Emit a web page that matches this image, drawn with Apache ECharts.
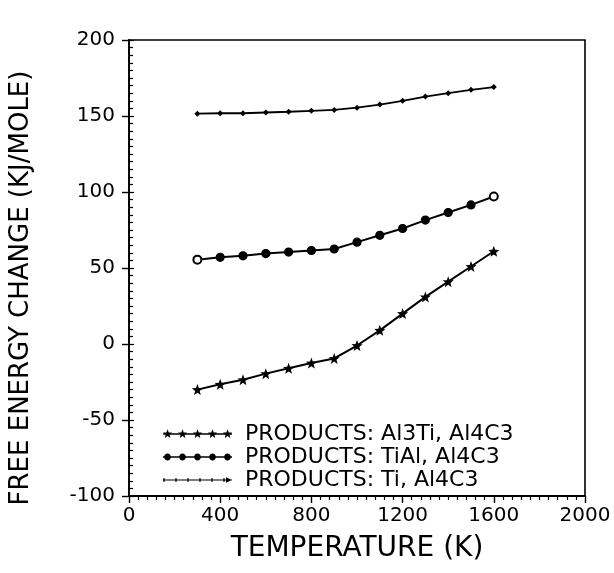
<!DOCTYPE html>
<html>
<head>
<meta charset="utf-8">
<script src="https://cdn.jsdelivr.net/npm/echarts@6/dist/echarts.min.js"></script>
<style>
html, body { margin: 0; padding: 0; background: #fff; }
#chart { width: 614px; height: 573px; }
</style>
</head>
<body>
<div id="chart"></div>
<script>
// data
var temps = [300, 400, 500, 600, 700, 800, 900, 1000, 1100, 1200, 1300, 1400, 1500, 1600];
var al3tiVals = [-30, -26.5, -23.5, -19.5, -16, -12.5, -9.5, -1, 9, 20, 31, 41, 51, 61];
var tialVals = [55.5, 57, 58, 59.5, 60.5, 61.5, 62.5, 67, 71.5, 76, 81.5, 86.5, 91.5, 97];
var tiVals = [151.5, 151.8, 151.8, 152.3, 152.8, 153.4, 154, 155.5, 157.5, 160, 162.8, 165, 167.2, 169];
var seriesNames = ['PRODUCTS: Al3Ti, Al4C3', 'PRODUCTS: TiAl, Al4C3', 'PRODUCTS: Ti, Al4C3'];
var xTicks = [0, 400, 800, 1200, 1600, 2000];
var yTicks = [-100, -50, 0, 50, 100, 150, 200];

var FONT = 'DejaVu Sans';
var chart = echarts.init(document.getElementById('chart'));

function pairs(vals) {
    return vals.map(function (v, i) { return [temps[i], v]; });
}

// star / round polygons as path commands
function polyCmd(cx, cy, n, R, r, start) {
    var s = '';
    for (var i = 0; i < n; i++) {
        var a = (start + i * 360 / n) * Math.PI / 180;
        var rr = (r != null && i % 2) ? r : R;
        s += (i ? 'L' : 'M') + (cx + rr * Math.cos(a)).toFixed(2) + ',' + (cy + rr * Math.sin(a)).toFixed(2);
    }
    return s + 'Z';
}
// tiny corner specks keep every legend icon the same bbox (W x H),
// the drawing itself only uses the first 69 px
var W = 77, H = 10, MID = 5;
var corners = 'M0,0L0.01,0L0,0.01ZM' + W + ',' + H + 'L' + (W - 0.01) + ',' + H + 'L' + W + ',' + (H - 0.01) + 'Z';
var bar = 'M0,' + (MID - 0.7) + 'L69,' + (MID - 0.7) + 'L69,' + (MID + 0.7) + 'L0,' + (MID + 0.7) + 'Z';
var iconXs = [4.5, 19.5, 34.5, 49.5, 64.5];
var starIcon = 'path://' + corners + bar + iconXs.map(function (x) { return polyCmd(x, MID, 10, 4.8, 2, -90); }).join('');
var circIcon = 'path://' + corners + bar + iconXs.map(function (x) { return polyCmd(x, MID, 16, 3.4, null, 0); }).join('');
var plusIcon = 'path://' + corners + 'M0,' + (MID - 0.5) + 'L69,' + (MID - 0.5) + 'L69,' + (MID + 0.5) + 'L0,' + (MID + 0.5) + 'Z' +
    [0, 12, 24, 36, 48, 60].map(function (x) {
        return 'M' + (x + 0.3) + ',' + (MID - 1.8) + 'L' + (x + 1.7) + ',' + (MID - 1.8) + 'L' + (x + 1.7) + ',' + (MID + 1.8) + 'L' + (x + 0.3) + ',' + (MID + 1.8) + 'Z';
    }).join('') +
    'M63,' + (MID - 2.8) + 'L69,' + MID + 'L63,' + (MID + 2.8) + 'Z';
var starSymbol = 'path://' + polyCmd(5, 5, 10, 5, 2.1, -90);

var tialData = pairs(tialVals).map(function (p, i) {
    if (i === 0 || i === tialVals.length - 1) {
        return { value: p, symbol: 'emptyCircle' };
    }
    return p;
});

function plain(v) { return String(v); }

var option = {
    animation: false,
    backgroundColor: '#fff',
    grid: { left: 127, right: 29, top: 40, bottom: 77, show: true, borderColor: '#000', borderWidth: 1.6 },
    legend: {
        orient: 'vertical',
        left: 163,
        top: 423,
        padding: 0,
        itemWidth: W,
        itemHeight: H,
        itemGap: 1,
        itemStyle: { borderWidth: 0 },
        lineStyle: { width: 0 },
        textStyle: { fontFamily: FONT, fontSize: 22, color: '#000' },
        data: [
            { name: seriesNames[0], icon: starIcon },
            { name: seriesNames[1], icon: circIcon },
            { name: seriesNames[2], icon: plusIcon }
        ]
    },
    xAxis: {
        type: 'value',
        min: 0,
        max: 2000,
        interval: 400,
        name: 'TEMPERATURE (K)',
        nameLocation: 'middle',
        nameGap: 39,
        nameTextStyle: { fontFamily: FONT, fontSize: 28, color: '#000' },
        axisLine: { show: true, onZero: false, lineStyle: { color: '#000', width: 1.8 } },
        axisTick: { show: true, length: 7, lineStyle: { color: '#000', width: 1.4 } },
        minorTick: { show: true, splitNumber: 10, length: 4, lineStyle: { color: '#000', width: 1.2 } },
        splitLine: { show: false },
        axisLabel: {
            fontFamily: FONT, fontSize: 20, color: '#000', margin: 10,
            formatter: plain,
            customValues: xTicks
        }
    },
    yAxis: [{
        type: 'value',
        min: -100,
        max: 200,
        interval: 50,
        name: 'FREE ENERGY CHANGE (KJ/MOLE)',
        nameLocation: 'middle',
        nameGap: 95,
        nameTextStyle: { fontFamily: FONT, fontSize: 26, color: '#000', padding: [0, 40, 0, 0] },
        axisLine: { show: true, onZero: false, lineStyle: { color: '#000', width: 1.8 } },
        axisTick: { show: true, length: 7, lineStyle: { color: '#000', width: 1.4 } },
        splitLine: { show: false },
        axisLabel: {
            fontFamily: FONT, fontSize: 20, color: '#000', margin: 14,
            formatter: plain,
            customValues: yTicks
        }
    }, {
        type: 'value',
        position: 'left',
        min: -100,
        max: 200,
        interval: 50,
        axisLine: { show: false, onZero: false },
        axisTick: { show: true, inside: true, length: 5, lineStyle: { color: '#000', width: 1.2 } },
        minorTick: { show: true, splitNumber: 10, length: 4, lineStyle: { color: '#000', width: 1.2 } },
        axisLabel: { show: false },
        splitLine: { show: false }
    }],
    series: [{
        name: seriesNames[0],
        type: 'line',
        data: pairs(al3tiVals),
        symbol: starSymbol,
        symbolSize: 11,
        itemStyle: { color: '#000' },
        lineStyle: { color: '#000', width: 2 }
    }, {
        name: seriesNames[1],
        type: 'line',
        data: tialData,
        symbol: 'circle',
        symbolSize: 8,
        itemStyle: { color: '#000', borderColor: '#000', borderWidth: 1.2 },
        lineStyle: { color: '#000', width: 2 }
    }, {
        name: seriesNames[2],
        type: 'line',
        data: pairs(tiVals),
        symbol: 'diamond',
        symbolSize: 6,
        itemStyle: { color: '#000' },
        lineStyle: { color: '#000', width: 1.8 }
    }]
};

chart.setOption(option);
</script>
</body>
</html>
